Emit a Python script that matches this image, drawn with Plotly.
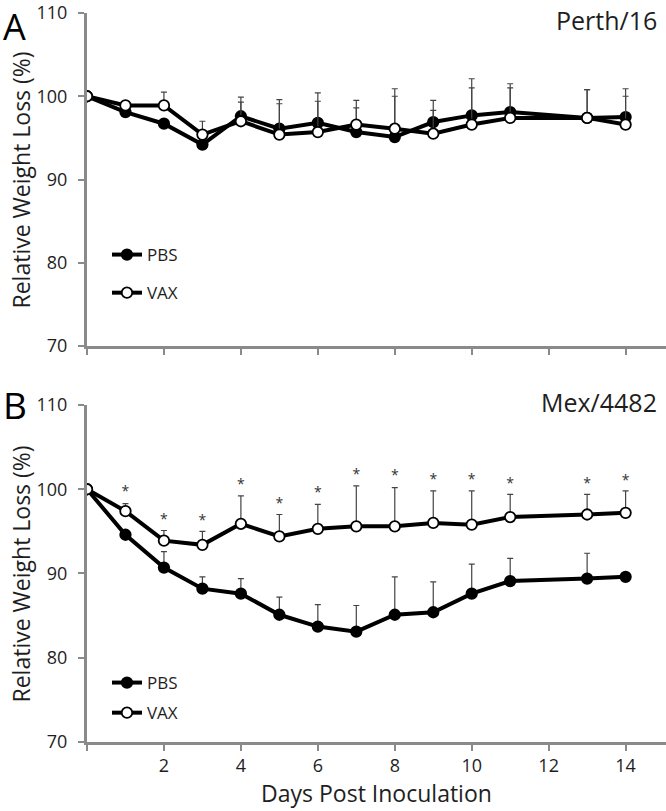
import plotly.graph_objects as go

# ---------------- data ----------------
days = [0, 1, 2, 3, 4, 5, 6, 7, 8, 9, 10, 11, 13, 14]

# Panel A: Perth/16
perth_pbs = [100, 98.1, 96.7, 94.2, 97.6, 96.1, 96.8, 95.7, 95.1, 96.9, 97.7, 98.1, 97.4, 97.5]
perth_pbs_err = [0, 0, 0, 0, 2.3, 3.5, 3.6, 3.8, 5.8, 2.6, 4.4, 3.4, 3.4, 3.4]
perth_vax = [100, 98.9, 98.9, 95.4, 97.0, 95.4, 95.7, 96.6, 96.1, 95.5, 96.6, 97.4, 97.4, 96.6]
perth_vax_err = [0, 0, 1.6, 1.6, 2.3, 3.7, 3.7, 2.0, 3.9, 2.8, 4.4, 3.6, 3.4, 3.4]

# Panel B: Mex/4482
mex_pbs = [100, 94.6, 90.7, 88.2, 87.6, 85.1, 83.7, 83.1, 85.1, 85.4, 87.6, 89.1, 89.4, 89.6]
mex_pbs_err = [0, 0, 1.9, 1.4, 1.8, 2.1, 2.6, 3.1, 4.5, 3.6, 3.5, 2.7, 3.0, 0]
mex_vax = [100, 97.4, 93.9, 93.4, 95.9, 94.4, 95.3, 95.6, 95.6, 96.0, 95.8, 96.7, 97.0, 97.2]
mex_vax_err = [0, 0.9, 1.2, 1.6, 3.3, 2.6, 2.9, 4.8, 4.6, 3.8, 4.0, 2.7, 2.4, 2.6]
star_days = [1, 2, 3, 4, 5, 6, 7, 8, 9, 10, 11, 13, 14]
star_y = [99.6, 96.3, 96.2, 100.4, 98.2, 99.5, 101.6, 101.5, 101.0, 101.0, 100.6, 100.6, 100.9]

x_ticks = [2, 4, 6, 8, 10, 12, 14]
y_ticks = [70, 80, 90, 100, 110]

FONT = "Open Sans"
AXIS_GRAY = "#8a8a8a"
TEXT = "#1e1e1e"

fig = go.Figure()


def add_series(y, err, xa, ya, name, fill, legend):
    fig.add_trace(go.Scatter(
        x=days, y=y, xaxis=xa, yaxis=ya, name=name,
        mode="lines+markers",
        line=dict(color="black", width=4),
        marker=dict(symbol="circle", size=10.5, color=fill,
                    line=dict(color="black", width=1.8)),
        error_y=dict(type="data", array=err, arrayminus=[0] * len(err),
                     symmetric=False, color="#444444", thickness=1.2, width=3),
        legend=legend, legendgroup=legend + name, showlegend=True,
    ))


add_series(perth_pbs, perth_pbs_err, "x", "y", "PBS", "black", "legend")
add_series(perth_vax, perth_vax_err, "x", "y", "VAX", "white", "legend")
add_series(mex_pbs, mex_pbs_err, "x2", "y2", "PBS", "black", "legend2")
add_series(mex_vax, mex_vax_err, "x2", "y2", "VAX", "white", "legend2")

fig.add_trace(go.Scatter(
    x=star_days, y=star_y, xaxis="x2", yaxis="y2", mode="text",
    text=["*"] * len(star_days), textfont=dict(family=FONT, size=14, color="#333333"),
    showlegend=False, hoverinfo="skip",
))

# empty traces so that the label-only overlay axes get drawn
for xa, ya in (("x", "y3"), ("x2", "y4")):
    fig.add_trace(go.Scatter(x=[None], y=[None], xaxis=xa, yaxis=ya, mode="markers",
                             showlegend=False, hoverinfo="skip"))

top_dom = [0.5432, 1.0]
bot_dom = [0.0, 0.4623]

axis_common = dict(
    showline=True, linecolor=AXIS_GRAY, linewidth=2.5,
    ticks="outside", tickcolor=AXIS_GRAY, tickwidth=2, ticklen=6,
    showgrid=False, zeroline=False,
    tickfont=dict(family=FONT, size=18, color=TEXT),
)
# overlay axes that only carry the y tick labels, set further from the axis line
label_axis = dict(
    showline=False, ticks="outside", ticklen=15, tickcolor="rgba(0,0,0,0)",
    showgrid=False, zeroline=False, range=[70, 110], tickvals=y_ticks,
    tickfont=dict(family=FONT, size=18, color=TEXT),
)
title_font = dict(family=FONT, size=23, color=TEXT)

y_title_x = -0.114
fig.update_layout(
    width=666, height=811,
    margin=dict(l=87, r=0, t=13, b=69),
    paper_bgcolor="white", plot_bgcolor="white",
    xaxis=dict(domain=[0, 1], anchor="y", range=[0, 15.05],
               tickvals=[0] + x_ticks, showticklabels=False, **axis_common),
    yaxis=dict(domain=top_dom, anchor="x", range=[70, 110], tickvals=y_ticks,
               showticklabels=False, **axis_common),
    yaxis3=dict(overlaying="y", anchor="x", **label_axis),
    xaxis2=dict(domain=[0, 1], anchor="y2", range=[0, 15.05],
                tickvals=[0] + x_ticks, ticktext=[""] + [str(v) for v in x_ticks],
                title=dict(text="Days Post Inoculation", font=title_font, standoff=7),
                **axis_common),
    yaxis2=dict(domain=bot_dom, anchor="x2", range=[70, 110], tickvals=y_ticks,
                showticklabels=False, **axis_common),
    yaxis4=dict(overlaying="y2", anchor="x2", **label_axis),
    legend=dict(x=0.0345, y=0.6927, xanchor="left", yanchor="top",
                bgcolor="rgba(0,0,0,0)", traceorder="grouped", tracegroupgap=13,
                font=dict(family=FONT, size=17, color=TEXT), itemwidth=30),
    legend2=dict(x=0.0345, y=0.1056, xanchor="left", yanchor="top",
                 bgcolor="rgba(0,0,0,0)", traceorder="grouped", tracegroupgap=5,
                 font=dict(family=FONT, size=17, color=TEXT), itemwidth=30),
    showlegend=True,
    annotations=[
        dict(text="Relative Weight Loss (%)", x=y_title_x, y=sum(top_dom) / 2,
             xref="paper", yref="paper", xanchor="center", yanchor="middle",
             textangle=-90, showarrow=False, font=title_font),
        dict(text="Relative Weight Loss (%)", x=y_title_x, y=sum(bot_dom) / 2,
             xref="paper", yref="paper", xanchor="center", yanchor="middle",
             textangle=-90, showarrow=False, font=title_font),
        dict(text="A", x=-0.148, y=1.0 + 13 / 729, xref="paper", yref="paper",
             xanchor="left", yanchor="top", showarrow=False,
             font=dict(family=FONT, size=36, color="black")),
        dict(text="B", x=-0.148, y=0.4623, xref="paper", yref="paper",
             xanchor="left", yanchor="middle", showarrow=False,
             font=dict(family=FONT, size=37, color="black")),
        dict(text="Perth/16", x=0.9875, y=0.991, xref="paper", yref="paper",
             xanchor="right", yanchor="middle", showarrow=False,
             font=dict(family=FONT, size=25, color=TEXT)),
        dict(text="Mex/4482", x=0.9875, y=0.466, xref="paper", yref="paper",
             xanchor="right", yanchor="middle", showarrow=False,
             font=dict(family=FONT, size=25, color=TEXT)),
    ],
)

fig.write_html("out.html", config={"displayModeBar": False},
               post_script="document.body.style.margin='0px';")
